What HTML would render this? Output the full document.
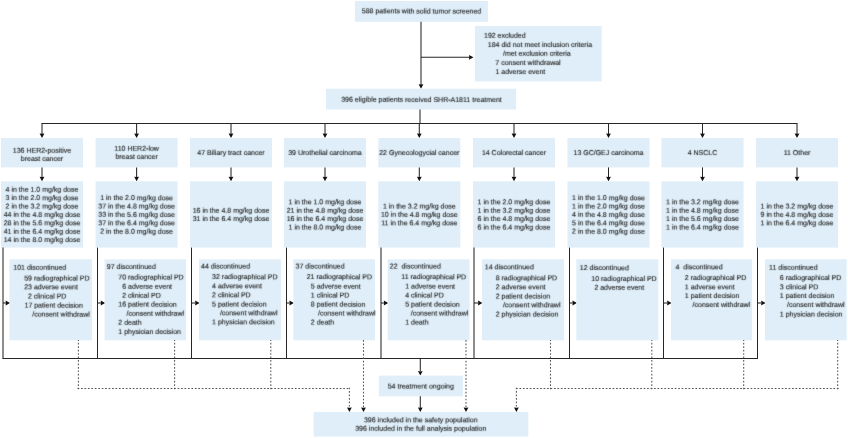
<!DOCTYPE html>
<html><head><meta charset="utf-8"><style>
html,body{margin:0;padding:0;background:#fff;}
body{width:848px;height:438px;overflow:hidden;position:relative;}
svg{display:block;position:absolute;left:0;top:0;}
#t{filter:grayscale(1);}
text{text-rendering:geometricPrecision;font-family:"Liberation Sans",sans-serif;font-size:7px;fill:#1a1a1a;stroke:#1a1a1a;stroke-width:0.12px;white-space:pre;}
</style></head><body>
<svg width="848" height="438" viewBox="0 0 848 438" xml:space="preserve">
<rect x="355" y="1" width="133.00" height="20.80" fill="#dfeef8"/>
<line x1="421" y1="21.8" x2="421" y2="85" stroke="#262626" stroke-width="1.05"/>
<polygon points="418.6,84.2 421,84.5 423.4,84.2 421,88.7" fill="#111"/>
<line x1="421" y1="57.3" x2="470" y2="57.3" stroke="#262626" stroke-width="1.05"/>
<polygon points="469.0,54.9 469.3,57.3 469.0,59.699999999999996 473.5,57.3" fill="#111"/>
<rect x="475" y="26" width="126.70" height="55.40" fill="#dfeef8"/>
<rect x="326" y="88.7" width="190.00" height="20.80" fill="#dfeef8"/>
<line x1="420" y1="109.5" x2="420" y2="123.5" stroke="#262626" stroke-width="1.05"/>
<line x1="41.5" y1="123.5" x2="797.5" y2="123.5" stroke="#262626" stroke-width="1.05"/>
<line x1="42.0" y1="123.5" x2="42.0" y2="134.5" stroke="#262626" stroke-width="1.05"/>
<polygon points="39.6,133.5 42.0,133.8 44.4,133.5 42.0,138" fill="#111"/>
<rect x="1" y="138" width="82.00" height="29.40" fill="#dfeef8"/>
<line x1="42.0" y1="167.4" x2="42.0" y2="177.5" stroke="#262626" stroke-width="1.05"/>
<polygon points="39.6,176.8 42.0,177.10000000000002 44.4,176.8 42.0,181.3" fill="#111"/>
<rect x="1" y="181.3" width="82.00" height="66.30" fill="#dfeef8"/>
<line x1="136.6" y1="123.5" x2="136.6" y2="134.5" stroke="#262626" stroke-width="1.05"/>
<polygon points="134.2,133.5 136.6,133.8 139.0,133.5 136.6,138" fill="#111"/>
<rect x="95.6" y="138" width="82.00" height="29.40" fill="#dfeef8"/>
<line x1="136.6" y1="167.4" x2="136.6" y2="177.5" stroke="#262626" stroke-width="1.05"/>
<polygon points="134.2,176.8 136.6,177.10000000000002 139.0,176.8 136.6,181.3" fill="#111"/>
<rect x="95.6" y="181.3" width="82.00" height="66.30" fill="#dfeef8"/>
<line x1="231.0" y1="123.5" x2="231.0" y2="134.5" stroke="#262626" stroke-width="1.05"/>
<polygon points="228.6,133.5 231.0,133.8 233.4,133.5 231.0,138" fill="#111"/>
<rect x="190" y="138" width="82.00" height="29.40" fill="#dfeef8"/>
<line x1="231.0" y1="167.4" x2="231.0" y2="177.5" stroke="#262626" stroke-width="1.05"/>
<polygon points="228.6,176.8 231.0,177.10000000000002 233.4,176.8 231.0,181.3" fill="#111"/>
<rect x="190" y="181.3" width="82.00" height="66.30" fill="#dfeef8"/>
<line x1="325.0" y1="123.5" x2="325.0" y2="134.5" stroke="#262626" stroke-width="1.05"/>
<polygon points="322.6,133.5 325.0,133.8 327.4,133.5 325.0,138" fill="#111"/>
<rect x="284" y="138" width="82.00" height="29.40" fill="#dfeef8"/>
<line x1="325.0" y1="167.4" x2="325.0" y2="177.5" stroke="#262626" stroke-width="1.05"/>
<polygon points="322.6,176.8 325.0,177.10000000000002 327.4,176.8 325.0,181.3" fill="#111"/>
<rect x="284" y="181.3" width="82.00" height="66.30" fill="#dfeef8"/>
<line x1="419.3" y1="123.5" x2="419.3" y2="134.5" stroke="#262626" stroke-width="1.05"/>
<polygon points="416.90000000000003,133.5 419.3,133.8 421.7,133.5 419.3,138" fill="#111"/>
<rect x="378.3" y="138" width="82.00" height="29.40" fill="#dfeef8"/>
<line x1="419.3" y1="167.4" x2="419.3" y2="177.5" stroke="#262626" stroke-width="1.05"/>
<polygon points="416.90000000000003,176.8 419.3,177.10000000000002 421.7,176.8 419.3,181.3" fill="#111"/>
<rect x="378.3" y="181.3" width="82.00" height="66.30" fill="#dfeef8"/>
<line x1="514.0" y1="123.5" x2="514.0" y2="134.5" stroke="#262626" stroke-width="1.05"/>
<polygon points="511.6,133.5 514.0,133.8 516.4,133.5 514.0,138" fill="#111"/>
<rect x="473" y="138" width="82.00" height="29.40" fill="#dfeef8"/>
<line x1="514.0" y1="167.4" x2="514.0" y2="177.5" stroke="#262626" stroke-width="1.05"/>
<polygon points="511.6,176.8 514.0,177.10000000000002 516.4,176.8 514.0,181.3" fill="#111"/>
<rect x="473" y="181.3" width="82.00" height="66.30" fill="#dfeef8"/>
<line x1="608.5" y1="123.5" x2="608.5" y2="134.5" stroke="#262626" stroke-width="1.05"/>
<polygon points="606.1,133.5 608.5,133.8 610.9,133.5 608.5,138" fill="#111"/>
<rect x="567.5" y="138" width="82.00" height="29.40" fill="#dfeef8"/>
<line x1="608.5" y1="167.4" x2="608.5" y2="177.5" stroke="#262626" stroke-width="1.05"/>
<polygon points="606.1,176.8 608.5,177.10000000000002 610.9,176.8 608.5,181.3" fill="#111"/>
<rect x="567.5" y="181.3" width="82.00" height="66.30" fill="#dfeef8"/>
<line x1="702.5" y1="123.5" x2="702.5" y2="134.5" stroke="#262626" stroke-width="1.05"/>
<polygon points="700.1,133.5 702.5,133.8 704.9,133.5 702.5,138" fill="#111"/>
<rect x="661.5" y="138" width="82.00" height="29.40" fill="#dfeef8"/>
<line x1="702.5" y1="167.4" x2="702.5" y2="177.5" stroke="#262626" stroke-width="1.05"/>
<polygon points="700.1,176.8 702.5,177.10000000000002 704.9,176.8 702.5,181.3" fill="#111"/>
<rect x="661.5" y="181.3" width="82.00" height="66.30" fill="#dfeef8"/>
<line x1="797.0" y1="123.5" x2="797.0" y2="134.5" stroke="#262626" stroke-width="1.05"/>
<polygon points="794.6,133.5 797.0,133.8 799.4,133.5 797.0,138" fill="#111"/>
<rect x="756" y="138" width="82.00" height="29.40" fill="#dfeef8"/>
<line x1="797.0" y1="167.4" x2="797.0" y2="177.5" stroke="#262626" stroke-width="1.05"/>
<polygon points="794.6,176.8 797.0,177.10000000000002 799.4,176.8 797.0,181.3" fill="#111"/>
<rect x="756" y="181.3" width="82.00" height="66.30" fill="#dfeef8"/>
<line x1="3" y1="247.6" x2="3" y2="358.5" stroke="#262626" stroke-width="1.05"/>
<line x1="3" y1="303" x2="6.0" y2="303" stroke="#262626" stroke-width="1.05"/>
<polygon points="5.6,300.6 5.8999999999999995,303 5.6,305.4 10.1,303" fill="#111"/>
<rect x="9.5" y="259.3" width="82.40" height="81.00" fill="#dfeef8"/>
<line x1="97.5" y1="247.6" x2="97.5" y2="358.5" stroke="#262626" stroke-width="1.05"/>
<line x1="97.5" y1="303" x2="101.1" y2="303" stroke="#262626" stroke-width="1.05"/>
<polygon points="100.69999999999999,300.6 100.99999999999999,303 100.69999999999999,305.4 105.19999999999999,303" fill="#111"/>
<rect x="104.6" y="259.3" width="81.50" height="81.00" fill="#dfeef8"/>
<line x1="191.5" y1="247.6" x2="191.5" y2="358.5" stroke="#262626" stroke-width="1.05"/>
<line x1="191.5" y1="303" x2="195.5" y2="303" stroke="#262626" stroke-width="1.05"/>
<polygon points="195.1,300.6 195.4,303 195.1,305.4 199.6,303" fill="#111"/>
<rect x="199" y="259.3" width="81.90" height="81.00" fill="#dfeef8"/>
<line x1="286.5" y1="247.6" x2="286.5" y2="358.5" stroke="#262626" stroke-width="1.05"/>
<line x1="286.5" y1="303" x2="289.8" y2="303" stroke="#262626" stroke-width="1.05"/>
<polygon points="289.40000000000003,300.6 289.70000000000005,303 289.40000000000003,305.4 293.90000000000003,303" fill="#111"/>
<rect x="293.3" y="259.3" width="81.70" height="81.00" fill="#dfeef8"/>
<line x1="381" y1="247.6" x2="381" y2="358.5" stroke="#262626" stroke-width="1.05"/>
<line x1="381" y1="303" x2="384.2" y2="303" stroke="#262626" stroke-width="1.05"/>
<polygon points="383.8,300.6 384.1,303 383.8,305.4 388.3,303" fill="#111"/>
<rect x="387.7" y="259.3" width="81.80" height="81.00" fill="#dfeef8"/>
<line x1="474" y1="247.6" x2="474" y2="358.5" stroke="#262626" stroke-width="1.05"/>
<line x1="474" y1="303" x2="478.4" y2="303" stroke="#262626" stroke-width="1.05"/>
<polygon points="478.0,300.6 478.3,303 478.0,305.4 482.5,303" fill="#111"/>
<rect x="481.9" y="259.3" width="82.10" height="81.00" fill="#dfeef8"/>
<line x1="569.5" y1="247.6" x2="569.5" y2="358.5" stroke="#262626" stroke-width="1.05"/>
<line x1="569.5" y1="303" x2="572.8" y2="303" stroke="#262626" stroke-width="1.05"/>
<polygon points="572.4,300.6 572.6999999999999,303 572.4,305.4 576.9,303" fill="#111"/>
<rect x="576.3" y="259.3" width="82.10" height="81.00" fill="#dfeef8"/>
<line x1="663.5" y1="247.6" x2="663.5" y2="358.5" stroke="#262626" stroke-width="1.05"/>
<line x1="663.5" y1="303" x2="667.5" y2="303" stroke="#262626" stroke-width="1.05"/>
<polygon points="667.1,300.6 667.4,303 667.1,305.4 671.6,303" fill="#111"/>
<rect x="671" y="259.3" width="81.10" height="81.00" fill="#dfeef8"/>
<line x1="757.5" y1="247.6" x2="757.5" y2="358.5" stroke="#262626" stroke-width="1.05"/>
<line x1="757.5" y1="303" x2="761.5" y2="303" stroke="#262626" stroke-width="1.05"/>
<polygon points="761.1,300.6 761.4,303 761.1,305.4 765.6,303" fill="#111"/>
<rect x="765" y="259.3" width="81.60" height="81.00" fill="#dfeef8"/>
<line x1="2.5" y1="358.5" x2="758.0" y2="358.5" stroke="#262626" stroke-width="1.05"/>
<line x1="420.3" y1="358" x2="420.3" y2="371.5" stroke="#262626" stroke-width="1.05"/>
<polygon points="417.90000000000003,371.1 420.3,371.40000000000003 422.7,371.1 420.3,375.6" fill="#111"/>
<rect x="378.8" y="375.6" width="84.00" height="20.70" fill="#dfeef8"/>
<line x1="420.3" y1="396.3" x2="420.3" y2="408" stroke="#262626" stroke-width="1.05"/>
<polygon points="417.90000000000003,407.5 420.3,407.8 422.7,407.5 420.3,412" fill="#111"/>
<rect x="313.6" y="412" width="214.70" height="24.50" fill="#dfeef8"/>
<line x1="78.4" y1="389.35" x2="78.4" y2="340" stroke="#555" stroke-width="1.05" stroke-dasharray="1.7 1.75"/>
<line x1="174.6" y1="389.35" x2="174.6" y2="340" stroke="#555" stroke-width="1.05" stroke-dasharray="1.7 1.75"/>
<line x1="270.8" y1="389.35" x2="270.8" y2="340" stroke="#555" stroke-width="1.05" stroke-dasharray="1.7 1.75"/>
<line x1="363.5" y1="340" x2="363.5" y2="408" stroke="#555" stroke-width="1.05" stroke-dasharray="1.7 1.75"/>
<polygon points="361.1,407.5 363.5,407.8 365.9,407.5 363.5,412" fill="#111"/>
<line x1="466" y1="340" x2="466" y2="408" stroke="#555" stroke-width="1.05" stroke-dasharray="1.7 1.75"/>
<polygon points="463.6,407.5 466,407.8 468.4,407.5 466,412" fill="#111"/>
<line x1="550.5" y1="389.35" x2="550.5" y2="340" stroke="#555" stroke-width="1.05" stroke-dasharray="1.7 1.75"/>
<line x1="651.8" y1="389.35" x2="651.8" y2="340" stroke="#555" stroke-width="1.05" stroke-dasharray="1.7 1.75"/>
<line x1="743.7" y1="389.35" x2="743.7" y2="340" stroke="#555" stroke-width="1.05" stroke-dasharray="1.7 1.75"/>
<line x1="837.7" y1="389.35" x2="837.7" y2="340" stroke="#555" stroke-width="1.05" stroke-dasharray="1.7 1.75"/>
<line x1="77.55000000000001" y1="388.5" x2="349.4" y2="388.5" stroke="#555" stroke-width="1.05" stroke-dasharray="1.7 1.75"/>
<line x1="349.4" y1="387.65" x2="349.4" y2="408" stroke="#555" stroke-width="1.05" stroke-dasharray="1.7 1.75"/>
<polygon points="347.0,407.5 349.4,407.8 351.79999999999995,407.5 349.4,412" fill="#111"/>
<line x1="838.5500000000001" y1="388.5" x2="516.4" y2="388.5" stroke="#555" stroke-width="1.05" stroke-dasharray="1.7 1.75"/>
<line x1="516.4" y1="387.65" x2="516.4" y2="408" stroke="#555" stroke-width="1.05" stroke-dasharray="1.7 1.75"/>
<polygon points="514.0,407.5 516.4,407.8 518.8,407.5 516.4,412" fill="#111"/>
</svg>
<svg id="t" width="848" height="438" viewBox="0 0 848 438" xml:space="preserve">
<defs><filter id="bl" x="0" y="0" width="848" height="438" filterUnits="userSpaceOnUse"><feConvolveMatrix order="3" kernelMatrix="0.1 0.5 0.1 0.5 4 0.5 0.1 0.5 0.1" preserveAlpha="false"/></filter></defs>
<g filter="url(#bl)">
<text x="421.5" y="13.4" text-anchor="middle" transform="rotate(0.05 421.5 13.4)">588 patients with solid tumor screened</text>
<text x="484" y="37.8" transform="rotate(0.05 484 37.8)">192 excluded</text>
<text x="487.8" y="46.9" transform="rotate(0.05 487.8 46.9)">184 did not meet inclusion criteria</text>
<text x="503" y="55.8" transform="rotate(0.05 503 55.8)">/met exclusion criteria</text>
<text x="495.3" y="64.9" transform="rotate(0.05 495.3 64.9)">7 consent withdrawal</text>
<text x="495.5" y="74" transform="rotate(0.05 495.5 74)">1 adverse event</text>
<text x="421.5" y="101.9" text-anchor="middle" transform="rotate(0.05 421.5 101.9)">396 eligible patients received SHR-A1811 treatment</text>
<text x="42.0" y="152.8" text-anchor="middle" transform="rotate(0.05 42.0 152.8)">136 HER2-positive</text>
<text x="42.0" y="161" text-anchor="middle" transform="rotate(0.05 42.0 161)">breast cancer</text>
<text x="42.0" y="191.76" text-anchor="middle" transform="rotate(0.05 42.0 191.76)">4 in the 1.0 mg/kg dose</text>
<text x="42.0" y="200.14" text-anchor="middle" transform="rotate(0.05 42.0 200.14)">3 in the 2.0 mg/kg dose</text>
<text x="42.0" y="208.52" text-anchor="middle" transform="rotate(0.05 42.0 208.52)">2 in the 3.2 mg/kg dose</text>
<text x="42.0" y="216.9" text-anchor="middle" transform="rotate(0.05 42.0 216.9)">44 in the 4.8 mg/kg dose</text>
<text x="42.0" y="225.28" text-anchor="middle" transform="rotate(0.05 42.0 225.28)">28 in the 5.6 mg/kg dose</text>
<text x="42.0" y="233.66" text-anchor="middle" transform="rotate(0.05 42.0 233.66)">41 in the 6.4 mg/kg dose</text>
<text x="42.0" y="242.04" text-anchor="middle" transform="rotate(0.05 42.0 242.04)">14 in the 8.0 mg/kg dose</text>
<text x="136.6" y="150.7" text-anchor="middle" transform="rotate(0.05 136.6 150.7)">110 HER2-low</text>
<text x="136.6" y="158.9" text-anchor="middle" transform="rotate(0.05 136.6 158.9)">breast cancer</text>
<text x="136.6" y="200.14" text-anchor="middle" transform="rotate(0.05 136.6 200.14)">1 in the 2.0 mg/kg dose</text>
<text x="136.6" y="208.52" text-anchor="middle" transform="rotate(0.05 136.6 208.52)">37 in the 4.8 mg/kg dose</text>
<text x="136.6" y="216.9" text-anchor="middle" transform="rotate(0.05 136.6 216.9)">33 in the 5.6 mg/kg dose</text>
<text x="136.6" y="225.28" text-anchor="middle" transform="rotate(0.05 136.6 225.28)">37 in the 6.4 mg/kg dose</text>
<text x="136.6" y="233.66" text-anchor="middle" transform="rotate(0.05 136.6 233.66)">2 in the 8.0 mg/kg dose</text>
<text x="231.0" y="155" text-anchor="middle" transform="rotate(0.05 231.0 155)">47 Biliary tract cancer</text>
<text x="231.0" y="212.71" text-anchor="middle" transform="rotate(0.05 231.0 212.71)">16 in the 4.8 mg/kg dose</text>
<text x="231.0" y="221.09" text-anchor="middle" transform="rotate(0.05 231.0 221.09)">31 in the 6.4 mg/kg dose</text>
<text x="325.0" y="155" text-anchor="middle" transform="rotate(0.05 325.0 155)">39 Urothelial carcinoma</text>
<text x="325.0" y="204.33" text-anchor="middle" transform="rotate(0.05 325.0 204.33)">1 in the 1.0 mg/kg dose</text>
<text x="325.0" y="212.71" text-anchor="middle" transform="rotate(0.05 325.0 212.71)">21 in the 4.8 mg/kg dose</text>
<text x="325.0" y="221.09" text-anchor="middle" transform="rotate(0.05 325.0 221.09)">16 in the 6.4 mg/kg dose</text>
<text x="325.0" y="229.47" text-anchor="middle" transform="rotate(0.05 325.0 229.47)">1 in the 8.0 mg/kg dose</text>
<text x="419.3" y="155" text-anchor="middle" transform="rotate(0.05 419.3 155)">22 Gynecologycial cancer</text>
<text x="419.3" y="208.52" text-anchor="middle" transform="rotate(0.05 419.3 208.52)">1 in the 3.2 mg/kg dose</text>
<text x="419.3" y="216.9" text-anchor="middle" transform="rotate(0.05 419.3 216.9)">10 in the 4.8 mg/kg dose</text>
<text x="419.3" y="225.28" text-anchor="middle" transform="rotate(0.05 419.3 225.28)">11 in the 6.4 mg/kg dose</text>
<text x="514.0" y="155" text-anchor="middle" transform="rotate(0.05 514.0 155)">14 Colorectal cancer</text>
<text x="514.0" y="204.33" text-anchor="middle" transform="rotate(0.05 514.0 204.33)">1 in the 2.0 mg/kg dose</text>
<text x="514.0" y="212.71" text-anchor="middle" transform="rotate(0.05 514.0 212.71)">1 in the 3.2 mg/kg dose</text>
<text x="514.0" y="221.09" text-anchor="middle" transform="rotate(0.05 514.0 221.09)">6 in the 4.8 mg/kg dose</text>
<text x="514.0" y="229.47" text-anchor="middle" transform="rotate(0.05 514.0 229.47)">6 in the 6.4 mg/kg dose</text>
<text x="608.5" y="155" text-anchor="middle" transform="rotate(0.05 608.5 155)">13 GC/GEJ carcinoma</text>
<text x="608.5" y="200.14" text-anchor="middle" transform="rotate(0.05 608.5 200.14)">1 in the 1.0 mg/kg dose</text>
<text x="608.5" y="208.52" text-anchor="middle" transform="rotate(0.05 608.5 208.52)">1 in the 2.0 mg/kg dose</text>
<text x="608.5" y="216.9" text-anchor="middle" transform="rotate(0.05 608.5 216.9)">4 in the 4.8 mg/kg dose</text>
<text x="608.5" y="225.28" text-anchor="middle" transform="rotate(0.05 608.5 225.28)">5 in the 6.4 mg/kg dose</text>
<text x="608.5" y="233.66" text-anchor="middle" transform="rotate(0.05 608.5 233.66)">2 in the 8.0 mg/kg dose</text>
<text x="702.5" y="155" text-anchor="middle" transform="rotate(0.05 702.5 155)">4 NSCLC</text>
<text x="702.5" y="204.33" text-anchor="middle" transform="rotate(0.05 702.5 204.33)">1 in the 3.2 mg/kg dose</text>
<text x="702.5" y="212.71" text-anchor="middle" transform="rotate(0.05 702.5 212.71)">1 in the 4.8 mg/kg dose</text>
<text x="702.5" y="221.09" text-anchor="middle" transform="rotate(0.05 702.5 221.09)">1 in the 5.6 mg/kg dose</text>
<text x="702.5" y="229.47" text-anchor="middle" transform="rotate(0.05 702.5 229.47)">1 in the 6.4 mg/kg dose</text>
<text x="797.0" y="155" text-anchor="middle" transform="rotate(0.05 797.0 155)">11 Other</text>
<text x="797.0" y="208.52" text-anchor="middle" transform="rotate(0.05 797.0 208.52)">1 in the 3.2 mg/kg dose</text>
<text x="797.0" y="216.9" text-anchor="middle" transform="rotate(0.05 797.0 216.9)">9 in the 4.8 mg/kg dose</text>
<text x="797.0" y="225.28" text-anchor="middle" transform="rotate(0.05 797.0 225.28)">1 in the 6.4 mg/kg dose</text>
<text x="13.3" y="269.7" transform="rotate(0.05 13.3 269.7)">101 discontinued</text>
<text x="24.2" y="280.4" transform="rotate(0.05 24.2 280.4)">59 radiographical PD</text>
<text x="24.2" y="289.3" transform="rotate(0.05 24.2 289.3)">23 adverse event</text>
<text x="27.9" y="298.5" transform="rotate(0.05 27.9 298.5)">2 clinical PD</text>
<text x="24.5" y="307.6" transform="rotate(0.05 24.5 307.6)">17 patient decision</text>
<text x="32.2" y="316.6" transform="rotate(0.05 32.2 316.6)">/consent withdrawl</text>
<text x="106.8" y="268.9" transform="rotate(0.05 106.8 268.9)">97 discontinued</text>
<text x="118.3" y="279.5" transform="rotate(0.05 118.3 279.5)">70 radiographical PD</text>
<text x="122.2" y="288.8" transform="rotate(0.05 122.2 288.8)">6 adverse event</text>
<text x="122.2" y="297.8" transform="rotate(0.05 122.2 297.8)">2 clinical PD</text>
<text x="118.3" y="306.6" transform="rotate(0.05 118.3 306.6)">16 patient decision</text>
<text x="126.5" y="315.7" transform="rotate(0.05 126.5 315.7)">/consent withdrawl</text>
<text x="118.3" y="324.7" transform="rotate(0.05 118.3 324.7)">2 death</text>
<text x="118.3" y="333.9" transform="rotate(0.05 118.3 333.9)">1 physician decision</text>
<text x="201" y="268.4" transform="rotate(0.05 201 268.4)">44 discontinued</text>
<text x="212.1" y="279.1" transform="rotate(0.05 212.1 279.1)">32 radiographical PD</text>
<text x="212.1" y="288.3" transform="rotate(0.05 212.1 288.3)">4 adverse event</text>
<text x="212.1" y="297.3" transform="rotate(0.05 212.1 297.3)">2 clinical PD</text>
<text x="212.1" y="306.4" transform="rotate(0.05 212.1 306.4)">5 patient decision</text>
<text x="219.9" y="315.3" transform="rotate(0.05 219.9 315.3)">/consent withdrawl</text>
<text x="212.1" y="324.3" transform="rotate(0.05 212.1 324.3)">1 physician decision</text>
<text x="295.6" y="268.4" transform="rotate(0.05 295.6 268.4)">37 discontinued</text>
<text x="306.7" y="279.1" transform="rotate(0.05 306.7 279.1)">21 radiographical PD</text>
<text x="310.8" y="288.6" transform="rotate(0.05 310.8 288.6)">5 adverse event</text>
<text x="310.8" y="297.4" transform="rotate(0.05 310.8 297.4)">1 clinical PD</text>
<text x="310.8" y="306.6" transform="rotate(0.05 310.8 306.6)">8 patient decision</text>
<text x="318" y="315.5" transform="rotate(0.05 318 315.5)">/consent withdrawl</text>
<text x="310.8" y="324.5" transform="rotate(0.05 310.8 324.5)">2 death</text>
<text x="389.8" y="268.4" transform="rotate(0.05 389.8 268.4)">22  discontinued</text>
<text x="401.3" y="279.1" transform="rotate(0.05 401.3 279.1)">11 radiographical PD</text>
<text x="405.2" y="288.6" transform="rotate(0.05 405.2 288.6)">1 adverse event</text>
<text x="405.2" y="297.4" transform="rotate(0.05 405.2 297.4)">4 clinical PD</text>
<text x="405.2" y="306.6" transform="rotate(0.05 405.2 306.6)">5 patient decision</text>
<text x="410.7" y="315.5" transform="rotate(0.05 410.7 315.5)">/consent withdrawl</text>
<text x="405.2" y="324.5" transform="rotate(0.05 405.2 324.5)">1 death</text>
<text x="484.8" y="269.3" transform="rotate(0.05 484.8 269.3)">14 discontinued</text>
<text x="495.7" y="280.3" transform="rotate(0.05 495.7 280.3)">8 radiographical PD</text>
<text x="495.7" y="289.2" transform="rotate(0.05 495.7 289.2)">2 adverse event</text>
<text x="495.7" y="298.4" transform="rotate(0.05 495.7 298.4)">2 patient decision</text>
<text x="502.9" y="307.3" transform="rotate(0.05 502.9 307.3)">/consent withdrawl</text>
<text x="495.7" y="316.5" transform="rotate(0.05 495.7 316.5)">2 physician decision</text>
<text x="579.8" y="270.1" transform="rotate(0.05 579.8 270.1)">12 discontinued</text>
<text x="591.3" y="281.0" transform="rotate(0.05 591.3 281.0)">10 radiographical PD</text>
<text x="594.4" y="289.8" transform="rotate(0.05 594.4 289.8)">2 adverse event</text>
<text x="675.5" y="269.3" transform="rotate(0.05 675.5 269.3)">4  discontinued</text>
<text x="684.8" y="279.9" transform="rotate(0.05 684.8 279.9)">2 radiographical PD</text>
<text x="684.8" y="289.2" transform="rotate(0.05 684.8 289.2)">1 adverse event</text>
<text x="684.8" y="298.0" transform="rotate(0.05 684.8 298.0)">1 patient decision</text>
<text x="692.6" y="307.0" transform="rotate(0.05 692.6 307.0)">/consent withdrawl</text>
<text x="769.1" y="269.7" transform="rotate(0.05 769.1 269.7)">11 discontinued</text>
<text x="779.8" y="279.9" transform="rotate(0.05 779.8 279.9)">6 radiographical PD</text>
<text x="779.8" y="289.2" transform="rotate(0.05 779.8 289.2)">3 clinical PD</text>
<text x="779.8" y="298.0" transform="rotate(0.05 779.8 298.0)">1 patient decision</text>
<text x="787" y="307.0" transform="rotate(0.05 787 307.0)">/consent withdrawl</text>
<text x="779.8" y="316.5" transform="rotate(0.05 779.8 316.5)">1 physician decision</text>
<text x="420.8" y="388.5" text-anchor="middle" transform="rotate(0.05 420.8 388.5)">54 treatment ongoing</text>
<text x="420.8" y="422.3" text-anchor="middle" transform="rotate(0.05 420.8 422.3)">396 included in the safety population</text>
<text x="420.8" y="430.8" text-anchor="middle" transform="rotate(0.05 420.8 430.8)">396 included in the full analysis population</text>
</g>
</svg>
</body></html>
